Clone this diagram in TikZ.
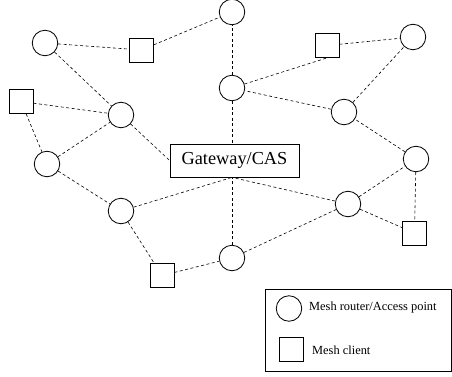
\documentclass[tikz,border=0pt]{standalone}
\usepackage{fontspec}
\setmainfont{Liberation Serif}
\begin{document}
\begin{tikzpicture}[x=1pt,y=-1pt,
  router/.style={circle,draw,fill=white,line width=0.8pt,minimum size=25.5pt,inner sep=0pt},
  client/.style={rectangle,draw,fill=white,line width=0.8pt,minimum size=24pt,inner sep=0pt},
  link/.style={line width=0.6pt,dash pattern=on 3pt off 2.5pt},
  gwbox/.style={rectangle,draw,fill=white,line width=0.8pt,minimum width=129pt,minimum height=33pt,inner sep=0pt,font=\fontsize{18.3}{20}\selectfont},
  legtext/.style={anchor=west,inner sep=0pt,font=\fontsize{12.4}{14}\selectfont}]
\useasboundingbox (0,0) rectangle (452,377);
% routers
\node[router] (c1) at (45,43) {};
\node[router] (c2) at (232,12) {};
\node[router] (c3) at (232,88) {};
\node[router] (c4) at (413,37) {};
\node[router] (c5) at (344,112) {};
\node[router] (c6) at (416,159) {};
\node[router] (c7) at (121,115) {};
\node[router] (c8) at (47,164) {};
\node[router] (c9) at (121,211) {};
\node[router] (c10) at (232,258) {};
\node[router] (c11) at (348,204) {};
% clients
\node[client] (s1) at (141.5,50) {};
\node[client] (s2) at (327,45.5) {};
\node[client] (s3) at (21,101.5) {};
\node[client] (s4) at (162,275.5) {};
\node[client] (s5) at (414.5,233) {};
% gateway
\node[gwbox] (gw) at (234.5,160.5) {Gateway/CAS};
\coordinate (gwb) at (c10 |- gw.south);
\coordinate (gwt) at (c3 |- gw.north);
% links
\draw[link] (c1) -- (s1);
\draw[link] (s1) -- (c2);
\draw[link] (c1) -- (c7);
\draw[link] (s3) -- (c7);
\draw[link] (s3) -- (c8);
\draw[link] (c8) -- (c7);
\draw[link] (c7) -- (gw.west);
\draw[link] (c8) -- (c9);
\draw[link] (c9) -- (s4);
\draw[link] (s4) -- (c10);
\draw[link] (c9) -- (gwb);
\draw[link] (c10) -- (gwb);
\draw[link] (c11) -- (gwb);
\draw[link] (c10) -- (c11);
\draw[link] (c11) -- (s5);
\draw[link] (c11) -- (c6);
\draw[link] (c6) -- (s5);
\draw[link] (c6) -- (c5);
\draw[link] (c5) -- (c3);
\draw[link] (c5) -- (c4);
\draw[link] (c3) -- (s2.south);
\draw[link] (s2) -- (c4);
\draw[link] (c3) -- (c2);
\draw[link] (c3) -- (gwt);
% legend
\node[draw,line width=0.8pt,minimum width=186pt,minimum height=82pt,inner sep=0pt] (leg) at (358,330) {};
\node[router] (lr) at (289,308.5) {};
\node[client] (lc) at (291.5,349.5) {};
\node[legtext] (lrt) at (309,308) {Mesh router/Access point};
\node[legtext] (lct) at (312,350) {Mesh client};
\end{tikzpicture}
\end{document}
